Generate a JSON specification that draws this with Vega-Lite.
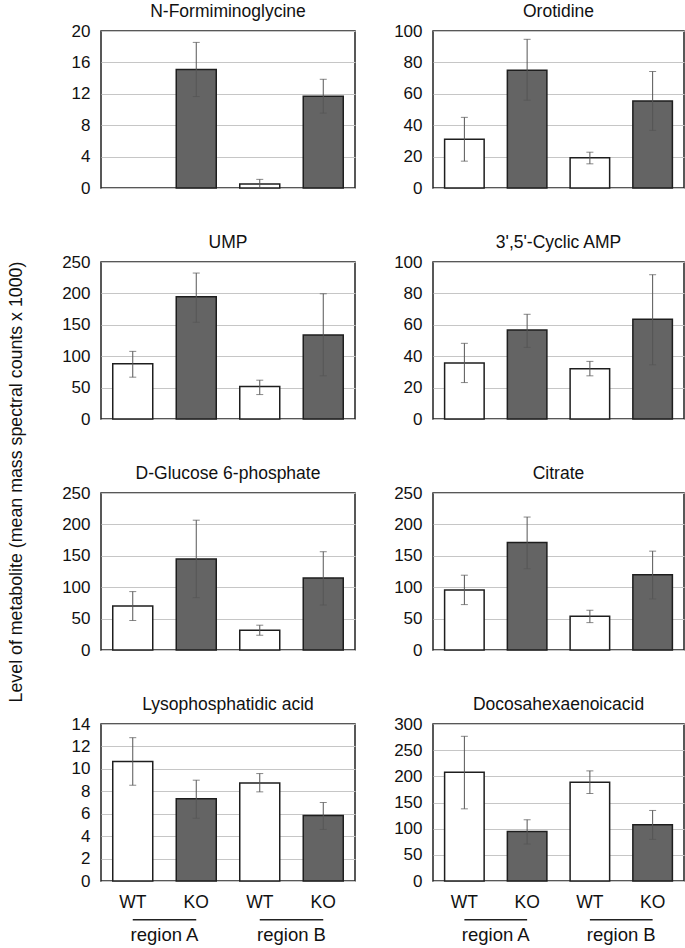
{
  "$schema": "https://vega.github.io/schema/vega-lite/v6.json",
  "padding": {"left": 0, "top": 1, "right": 4, "bottom": 0},
  "config": {
    "font": "Liberation Sans",
    "view": {"stroke": "#222222", "strokeWidth": 1.5},
    "axis": {"labelFont": "Liberation Sans", "labelFontSize": 17, "labelColor": "#111111", "ticks": false, "domain": false, "gridColor": "#c6c6c6", "gridWidth": 1.2, "labelOverlap": false, "labelBound": false},
    "axisY": {"labelPadding": 11, "minExtent": 40, "maxExtent": 40, "format": "d"},
    "axisX": {"grid": false, "labelPadding": 12, "labelFontSize": 17.5},
    "title": {"font": "Liberation Sans", "fontSize": 17.5, "fontWeight": "normal", "color": "#111111", "offset": 2}
  },
  "data": {"values": [
    {"metabolite": "N-Formiminoglycine", "group": "WT A", "genotype": "WT", "mean": 0, "lo": null, "hi": null},
    {"metabolite": "N-Formiminoglycine", "group": "KO A", "genotype": "KO", "mean": 15.1, "lo": 11.65, "hi": 18.55},
    {"metabolite": "N-Formiminoglycine", "group": "WT B", "genotype": "WT", "mean": 0.5, "lo": 0, "hi": 1.1},
    {"metabolite": "N-Formiminoglycine", "group": "KO B", "genotype": "KO", "mean": 11.7, "lo": 9.55, "hi": 13.85},
    {"metabolite": "Orotidine", "group": "WT A", "genotype": "WT", "mean": 31.1, "lo": 17.1, "hi": 45.0},
    {"metabolite": "Orotidine", "group": "KO A", "genotype": "KO", "mean": 75.0, "lo": 55.9, "hi": 94.7},
    {"metabolite": "Orotidine", "group": "WT B", "genotype": "WT", "mean": 19.2, "lo": 15.4, "hi": 22.8},
    {"metabolite": "Orotidine", "group": "KO B", "genotype": "KO", "mean": 55.4, "lo": 36.7, "hi": 74.2},
    {"metabolite": "UMP", "group": "WT A", "genotype": "WT", "mean": 88, "lo": 66.6, "hi": 107.7},
    {"metabolite": "UMP", "group": "KO A", "genotype": "KO", "mean": 194.6, "lo": 154, "hi": 232.4},
    {"metabolite": "UMP", "group": "WT B", "genotype": "WT", "mean": 51.7, "lo": 38.9, "hi": 61.8},
    {"metabolite": "UMP", "group": "KO B", "genotype": "KO", "mean": 133.8, "lo": 68.8, "hi": 199.4},
    {"metabolite": "3',5'-Cyclic AMP", "group": "WT A", "genotype": "WT", "mean": 35.6, "lo": 23.2, "hi": 48.2},
    {"metabolite": "3',5'-Cyclic AMP", "group": "KO A", "genotype": "KO", "mean": 56.7, "lo": 45.6, "hi": 66.7},
    {"metabolite": "3',5'-Cyclic AMP", "group": "WT B", "genotype": "WT", "mean": 32.0, "lo": 27.5, "hi": 36.7},
    {"metabolite": "3',5'-Cyclic AMP", "group": "KO B", "genotype": "KO", "mean": 63.5, "lo": 34.5, "hi": 91.9},
    {"metabolite": "D-Glucose 6-phosphate", "group": "WT A", "genotype": "WT", "mean": 70.0, "lo": 47.0, "hi": 93.0},
    {"metabolite": "D-Glucose 6-phosphate", "group": "KO A", "genotype": "KO", "mean": 144.8, "lo": 83.3, "hi": 206.7},
    {"metabolite": "D-Glucose 6-phosphate", "group": "WT B", "genotype": "WT", "mean": 31.5, "lo": 23.5, "hi": 39.5},
    {"metabolite": "D-Glucose 6-phosphate", "group": "KO B", "genotype": "KO", "mean": 114.8, "lo": 71.6, "hi": 156.5},
    {"metabolite": "Citrate", "group": "WT A", "genotype": "WT", "mean": 95.7, "lo": 72.3, "hi": 119.1},
    {"metabolite": "Citrate", "group": "KO A", "genotype": "KO", "mean": 171.3, "lo": 129.3, "hi": 211.7},
    {"metabolite": "Citrate", "group": "WT B", "genotype": "WT", "mean": 53.7, "lo": 43.6, "hi": 63.3},
    {"metabolite": "Citrate", "group": "KO B", "genotype": "KO", "mean": 119.7, "lo": 81.4, "hi": 157.4},
    {"metabolite": "Lysophosphatidic acid", "group": "WT A", "genotype": "WT", "mean": 10.65, "lo": 8.54, "hi": 12.78},
    {"metabolite": "Lysophosphatidic acid", "group": "KO A", "genotype": "KO", "mean": 7.33, "lo": 5.6, "hi": 8.99},
    {"metabolite": "Lysophosphatidic acid", "group": "WT B", "genotype": "WT", "mean": 8.75, "lo": 7.95, "hi": 9.58},
    {"metabolite": "Lysophosphatidic acid", "group": "KO B", "genotype": "KO", "mean": 5.84, "lo": 4.6, "hi": 7.0},
    {"metabolite": "Docosahexaenoicacid", "group": "WT A", "genotype": "WT", "mean": 207.8, "lo": 137.9, "hi": 276.5},
    {"metabolite": "Docosahexaenoicacid", "group": "KO A", "genotype": "KO", "mean": 94.7, "lo": 70.6, "hi": 117},
    {"metabolite": "Docosahexaenoicacid", "group": "WT B", "genotype": "WT", "mean": 188.8, "lo": 167.2, "hi": 210.4},
    {"metabolite": "Docosahexaenoicacid", "group": "KO B", "genotype": "KO", "mean": 107.4, "lo": 79.5, "hi": 134.8}
  ]},
  "spacing": 26,
  "hconcat": [
    {
      "data": {"values": [{"label": "Level of metabolite  (mean mass spectral counts x 1000)"}]},
      "width": 34, "height": 902,
      "view": {"stroke": null},
      "mark": {"type": "text", "angle": 270, "fontSize": 17.8, "font": "Liberation Sans", "color": "#111111"},
      "encoding": {"text": {"field": "label", "type": "nominal"}}
    },
    {
      "spacing": 35,
      "vconcat": [
        {"spacing": 36, "hconcat": [
          {"title": "N-Formiminoglycine", "width": 254, "height": 157,
           "transform": [{"filter": "datum.metabolite === 'N-Formiminoglycine'"}],
           "encoding": {"x": {"field": "group", "type": "nominal", "scale": {"domain": ["WT A", "KO A", "WT B", "KO B"], "paddingInner": 0.37, "paddingOuter": 0.185}, "axis": null}},
           "layer": [
             {"transform": [{"filter": "datum.mean > 0"}],
              "mark": {"type": "bar", "stroke": "#1e1e1e", "strokeWidth": 1.5},
              "encoding": {"y": {"field": "mean", "type": "quantitative", "scale": {"domain": [0, 20], "nice": false}, "axis": {"values": [0, 4, 8, 12, 16, 20], "tickCount": 20, "title": null}},
                           "fill": {"field": "genotype", "type": "nominal", "scale": {"domain": ["WT", "KO"], "range": ["#ffffff", "#646464"]}, "legend": null}}},
             {"transform": [{"filter": "isValid(datum.hi)"}],
              "mark": {"type": "errorbar", "ticks": {"size": 7}, "color": "#555555", "thickness": 1},
              "encoding": {"y": {"field": "lo", "type": "quantitative", "title": null}, "y2": {"field": "hi"}}}
           ]},
          {"title": "Orotidine", "width": 251, "height": 157,
           "transform": [{"filter": "datum.metabolite === 'Orotidine'"}],
           "encoding": {"x": {"field": "group", "type": "nominal", "scale": {"domain": ["WT A", "KO A", "WT B", "KO B"], "paddingInner": 0.37, "paddingOuter": 0.185}, "axis": null}},
           "layer": [
             {"mark": {"type": "bar", "stroke": "#1e1e1e", "strokeWidth": 1.5},
              "encoding": {"y": {"field": "mean", "type": "quantitative", "scale": {"domain": [0, 100], "nice": false}, "axis": {"values": [0, 20, 40, 60, 80, 100], "tickCount": 20, "title": null}},
                           "fill": {"field": "genotype", "type": "nominal", "scale": {"domain": ["WT", "KO"], "range": ["#ffffff", "#646464"]}, "legend": null}}},
             {"transform": [{"filter": "isValid(datum.hi)"}],
              "mark": {"type": "errorbar", "ticks": {"size": 7}, "color": "#555555", "thickness": 1},
              "encoding": {"y": {"field": "lo", "type": "quantitative", "title": null}, "y2": {"field": "hi"}}}
           ]}
        ]},
        {"spacing": 36, "hconcat": [
          {"title": "UMP", "width": 254, "height": 157,
           "transform": [{"filter": "datum.metabolite === 'UMP'"}],
           "encoding": {"x": {"field": "group", "type": "nominal", "scale": {"domain": ["WT A", "KO A", "WT B", "KO B"], "paddingInner": 0.37, "paddingOuter": 0.185}, "axis": null}},
           "layer": [
             {"mark": {"type": "bar", "stroke": "#1e1e1e", "strokeWidth": 1.5},
              "encoding": {"y": {"field": "mean", "type": "quantitative", "scale": {"domain": [0, 250], "nice": false}, "axis": {"values": [0, 50, 100, 150, 200, 250], "tickCount": 20, "title": null}},
                           "fill": {"field": "genotype", "type": "nominal", "scale": {"domain": ["WT", "KO"], "range": ["#ffffff", "#646464"]}, "legend": null}}},
             {"transform": [{"filter": "isValid(datum.hi)"}],
              "mark": {"type": "errorbar", "ticks": {"size": 7}, "color": "#555555", "thickness": 1},
              "encoding": {"y": {"field": "lo", "type": "quantitative", "title": null}, "y2": {"field": "hi"}}}
           ]},
          {"title": "3',5'-Cyclic AMP", "width": 251, "height": 157,
           "transform": [{"filter": "datum.metabolite === \"3',5'-Cyclic AMP\""}],
           "encoding": {"x": {"field": "group", "type": "nominal", "scale": {"domain": ["WT A", "KO A", "WT B", "KO B"], "paddingInner": 0.37, "paddingOuter": 0.185}, "axis": null}},
           "layer": [
             {"mark": {"type": "bar", "stroke": "#1e1e1e", "strokeWidth": 1.5},
              "encoding": {"y": {"field": "mean", "type": "quantitative", "scale": {"domain": [0, 100], "nice": false}, "axis": {"values": [0, 20, 40, 60, 80, 100], "tickCount": 20, "title": null}},
                           "fill": {"field": "genotype", "type": "nominal", "scale": {"domain": ["WT", "KO"], "range": ["#ffffff", "#646464"]}, "legend": null}}},
             {"transform": [{"filter": "isValid(datum.hi)"}],
              "mark": {"type": "errorbar", "ticks": {"size": 7}, "color": "#555555", "thickness": 1},
              "encoding": {"y": {"field": "lo", "type": "quantitative", "title": null}, "y2": {"field": "hi"}}}
           ]}
        ]},
        {"spacing": 36, "hconcat": [
          {"title": "D-Glucose 6-phosphate", "width": 254, "height": 157,
           "transform": [{"filter": "datum.metabolite === 'D-Glucose 6-phosphate'"}],
           "encoding": {"x": {"field": "group", "type": "nominal", "scale": {"domain": ["WT A", "KO A", "WT B", "KO B"], "paddingInner": 0.37, "paddingOuter": 0.185}, "axis": null}},
           "layer": [
             {"mark": {"type": "bar", "stroke": "#1e1e1e", "strokeWidth": 1.5},
              "encoding": {"y": {"field": "mean", "type": "quantitative", "scale": {"domain": [0, 250], "nice": false}, "axis": {"values": [0, 50, 100, 150, 200, 250], "tickCount": 20, "title": null}},
                           "fill": {"field": "genotype", "type": "nominal", "scale": {"domain": ["WT", "KO"], "range": ["#ffffff", "#646464"]}, "legend": null}}},
             {"transform": [{"filter": "isValid(datum.hi)"}],
              "mark": {"type": "errorbar", "ticks": {"size": 7}, "color": "#555555", "thickness": 1},
              "encoding": {"y": {"field": "lo", "type": "quantitative", "title": null}, "y2": {"field": "hi"}}}
           ]},
          {"title": "Citrate", "width": 251, "height": 157,
           "transform": [{"filter": "datum.metabolite === 'Citrate'"}],
           "encoding": {"x": {"field": "group", "type": "nominal", "scale": {"domain": ["WT A", "KO A", "WT B", "KO B"], "paddingInner": 0.37, "paddingOuter": 0.185}, "axis": null}},
           "layer": [
             {"mark": {"type": "bar", "stroke": "#1e1e1e", "strokeWidth": 1.5},
              "encoding": {"y": {"field": "mean", "type": "quantitative", "scale": {"domain": [0, 250], "nice": false}, "axis": {"values": [0, 50, 100, 150, 200, 250], "tickCount": 20, "title": null}},
                           "fill": {"field": "genotype", "type": "nominal", "scale": {"domain": ["WT", "KO"], "range": ["#ffffff", "#646464"]}, "legend": null}}},
             {"transform": [{"filter": "isValid(datum.hi)"}],
              "mark": {"type": "errorbar", "ticks": {"size": 7}, "color": "#555555", "thickness": 1},
              "encoding": {"y": {"field": "lo", "type": "quantitative", "title": null}, "y2": {"field": "hi"}}}
           ]}
        ]},
        {"spacing": 36, "hconcat": [
          {"spacing": 0, "vconcat": [
            {"title": "Lysophosphatidic acid", "width": 254, "height": 157,
             "transform": [{"filter": "datum.metabolite === 'Lysophosphatidic acid'"}],
             "encoding": {"x": {"field": "group", "type": "nominal", "scale": {"domain": ["WT A", "KO A", "WT B", "KO B"], "paddingInner": 0.37, "paddingOuter": 0.185}, "axis": {"title": null, "labelAngle": 0, "labelExpr": "slice(datum.label, 0, 2)"}}},
             "layer": [
               {"mark": {"type": "bar", "stroke": "#1e1e1e", "strokeWidth": 1.5},
                "encoding": {"y": {"field": "mean", "type": "quantitative", "scale": {"domain": [0, 14], "nice": false}, "axis": {"values": [0, 2, 4, 6, 8, 10, 12, 14], "tickCount": 20, "format": "d", "title": null}},
                             "fill": {"field": "genotype", "type": "nominal", "scale": {"domain": ["WT", "KO"], "range": ["#ffffff", "#646464"]}, "legend": null}}},
               {"transform": [{"filter": "isValid(datum.hi)"}],
                "mark": {"type": "errorbar", "ticks": {"size": 7}, "color": "#555555", "thickness": 1},
                "encoding": {"y": {"field": "lo", "type": "quantitative", "title": null}, "y2": {"field": "hi"}}}
             ]},
            {"width": 254, "height": 31, "view": {"stroke": null},
             "data": {"values": [{"region": "region A", "first": "WT A", "last": "KO A"}, {"region": "region B", "first": "WT B", "last": "KO B"}]},
             "resolve": {"scale": {"x": "independent"}},
             "layer": [
               {"mark": {"type": "rule", "color": "#222222", "strokeWidth": 1.5},
                "encoding": {"x": {"field": "first", "type": "nominal", "scale": {"domain": ["WT A", "KO A", "WT B", "KO B"], "paddingInner": 0.37, "paddingOuter": 0.185}, "axis": null},
                             "x2": {"field": "last"},
                             "y": {"datum": "line", "type": "nominal", "scale": {"type": "point", "domain": ["line", "region"], "padding": 0.5}, "axis": {"labels": false, "ticks": false, "domain": false, "grid": false, "title": null}}}},
               {"mark": {"type": "text", "fontSize": 18.5, "font": "Liberation Sans", "color": "#111111", "baseline": "middle"},
                "encoding": {"x": {"field": "region", "type": "nominal", "scale": {"domain": ["region A", "region B"], "paddingInner": 0, "paddingOuter": 0}, "axis": null},
                             "y": {"datum": "region", "type": "nominal"},
                             "text": {"field": "region", "type": "nominal"}}}
             ]}
          ]},
          {"spacing": 0, "vconcat": [
            {"title": "Docosahexaenoicacid", "width": 251, "height": 157,
             "transform": [{"filter": "datum.metabolite === 'Docosahexaenoicacid'"}],
             "encoding": {"x": {"field": "group", "type": "nominal", "scale": {"domain": ["WT A", "KO A", "WT B", "KO B"], "paddingInner": 0.37, "paddingOuter": 0.185}, "axis": {"title": null, "labelAngle": 0, "labelExpr": "slice(datum.label, 0, 2)"}}},
             "layer": [
               {"mark": {"type": "bar", "stroke": "#1e1e1e", "strokeWidth": 1.5},
                "encoding": {"y": {"field": "mean", "type": "quantitative", "scale": {"domain": [0, 300], "nice": false}, "axis": {"values": [0, 50, 100, 150, 200, 250, 300], "tickCount": 20, "title": null}},
                             "fill": {"field": "genotype", "type": "nominal", "scale": {"domain": ["WT", "KO"], "range": ["#ffffff", "#646464"]}, "legend": null}}},
               {"transform": [{"filter": "isValid(datum.hi)"}],
                "mark": {"type": "errorbar", "ticks": {"size": 7}, "color": "#555555", "thickness": 1},
                "encoding": {"y": {"field": "lo", "type": "quantitative", "title": null}, "y2": {"field": "hi"}}}
             ]},
            {"width": 251, "height": 31, "view": {"stroke": null},
             "data": {"values": [{"region": "region A", "first": "WT A", "last": "KO A"}, {"region": "region B", "first": "WT B", "last": "KO B"}]},
             "resolve": {"scale": {"x": "independent"}},
             "layer": [
               {"mark": {"type": "rule", "color": "#222222", "strokeWidth": 1.5},
                "encoding": {"x": {"field": "first", "type": "nominal", "scale": {"domain": ["WT A", "KO A", "WT B", "KO B"], "paddingInner": 0.37, "paddingOuter": 0.185}, "axis": null},
                             "x2": {"field": "last"},
                             "y": {"datum": "line", "type": "nominal", "scale": {"type": "point", "domain": ["line", "region"], "padding": 0.5}, "axis": {"labels": false, "ticks": false, "domain": false, "grid": false, "title": null}}}},
               {"mark": {"type": "text", "fontSize": 18.5, "font": "Liberation Sans", "color": "#111111", "baseline": "middle"},
                "encoding": {"x": {"field": "region", "type": "nominal", "scale": {"domain": ["region A", "region B"], "paddingInner": 0, "paddingOuter": 0}, "axis": null},
                             "y": {"datum": "region", "type": "nominal"},
                             "text": {"field": "region", "type": "nominal"}}}
             ]}
          ]}
        ]}
      ]
    }
  ]
}
